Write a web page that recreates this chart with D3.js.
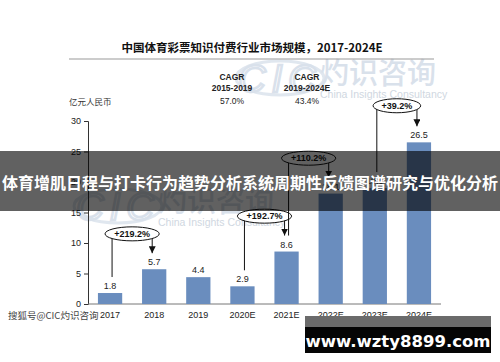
<!DOCTYPE html>
<html>
<head>
<meta charset="utf-8">
<script src="https://cdnjs.cloudflare.com/ajax/libs/d3/7.8.5/d3.min.js"></script>
<style>
  body { margin: 0; background: #fff; }
  svg { display: block; }
</style>
</head>
<body>
<svg id="chart" width="500" height="362"></svg>
<script>
// chart data
var years = ['2017', '2018', '2019', '2020E', '2021E', '2022E', '2023E', '2024E'];
var values = [1.8, 5.7, 4.4, 2.9, 8.6, 18.1, 19.0, 26.5];
var yTicks = [0, 5, 10, 15, 20, 25, 30];
// growth bubbles: from bar, to bar, text, bubble level (value units)
var growthFrom = ['2017', '2020E', '2021E', '2023E'];
var growthTo = ['2018', '2021E', '2022E', '2024E'];
var growthLabels = ['+219.2%', '+192.7%', '+110.2%', '+39.2%'];
var growthLevel = [11.5, 14.4, 23.9, 32.5];
var cagrPeriods = ['2015-2019', '2019-2024E'];
var cagrValues = ['57.0%', '43.4%'];

var svg = d3.select('#chart');
var barColor = '#6a8dbe';
var sans = '"Liberation Sans", Arial, sans-serif';
var cjk = '"Noto Sans CJK SC", sans-serif';

var x = d3.scaleBand().domain(years).range([88, 441]).paddingInner(0.45).paddingOuter(0.225);
var y = d3.scaleLinear().domain([0, 30]).range([304, 121]);
var cx = function(d) { return x(d) + x.bandwidth() / 2; };
var valueOf = function(d) { return values[years.indexOf(d)]; };

/** watermark (CIC logo), drawn twice **/
function drawLogo(ox, oy) {
    var g = svg.append('g').attr('transform', 'translate(' + ox + ',' + oy + ')');
    g.append('ellipse')
        .attr('cx', 40).attr('cy', 18).attr('rx', 44).attr('ry', 17)
        .attr('fill', 'none').attr('stroke', '#e0e7ef').attr('stroke-width', 3);
    g.append('text')
        .attr('x', 40).attr('y', 32)
        .attr('text-anchor', 'middle')
        .attr('font-family', sans).attr('font-style', 'italic')
        .attr('font-size', 38).attr('letter-spacing', 6)
        .attr('fill', 'none').attr('stroke', '#d9e1eb').attr('stroke-width', 2.5)
        .text('CIC');
    g.append('text')
        .attr('x', 80).attr('y', 24)
        .attr('font-family', cjk).attr('font-size', 29).attr('font-weight', 500)
        .attr('fill', '#d9e1eb')
        .text('灼识咨询');
    g.append('text')
        .attr('x', 80).attr('y', 38)
        .attr('font-family', sans).attr('font-size', 10.5)
        .attr('fill', '#cfd7e1')
        .text('China Insights Consultancy');
}
drawLogo(240, 60);
drawLogo(78, 188);

/** title **/
svg.append('text')
    .attr('x', 252).attr('y', 52)
    .attr('text-anchor', 'middle')
    .attr('font-family', cjk).attr('font-size', 11.5).attr('font-weight', 'bold')
    .attr('fill', '#111')
    .text('中国体育彩票知识付费行业市场规模，2017-2024E');
svg.append('line')
    .attr('x1', 69).attr('x2', 434).attr('y1', 59).attr('y2', 59)
    .attr('stroke', '#999').attr('stroke-width', 1);

/** CAGR headers **/
var cagrX = [232, 307];
cagrPeriods.forEach(function(p, i) {
    var t = svg.append('text')
        .attr('text-anchor', 'middle')
        .attr('font-family', sans).attr('font-size', 8.5)
        .attr('fill', '#222');
    t.append('tspan').attr('x', cagrX[i]).attr('y', 80).attr('font-weight', 'bold').text('CAGR');
    t.append('tspan').attr('x', cagrX[i]).attr('y', 91).attr('font-weight', 'bold').text(p);
    svg.append('text')
        .attr('x', cagrX[i]).attr('y', 104)
        .attr('text-anchor', 'middle')
        .attr('font-family', sans).attr('font-size', 8.5)
        .attr('fill', '#222')
        .text(cagrValues[i]);
});
svg.append('text')
    .attr('x', 69).attr('y', 105)
    .attr('font-family', cjk).attr('font-size', 8.5)
    .attr('fill', '#333')
    .text('亿元人民币');

/** source watermark (under the axis labels) **/
svg.append('text')
    .attr('x', 8).attr('y', 319)
    .attr('font-family', cjk).attr('font-size', 9.5)
    .attr('fill', '#444')
    .attr('stroke', '#fff').attr('stroke-width', 2).attr('paint-order', 'stroke')
    .text('搜狐号@CIC灼识咨询');

/** axes **/
var yAxis = d3.axisLeft(y).tickValues(yTicks).tickSize(4).tickPadding(3);
var gy = svg.append('g').attr('transform', 'translate(88,0)').call(yAxis);
gy.select('.domain').attr('stroke', '#333');
gy.selectAll('.tick line').attr('stroke', '#333');
gy.selectAll('text').attr('font-family', sans).attr('font-size', 9).attr('fill', '#222');

var xAxis = d3.axisBottom(x).tickSize(0).tickPadding(8);
var gx = svg.append('g').attr('transform', 'translate(0,304)').call(xAxis);
gx.select('.domain').attr('stroke', '#777').attr('d', 'M88,0H441');
gx.selectAll('text').attr('font-family', sans).attr('font-size', 9).attr('fill', '#222');

/** bars and value labels **/
svg.selectAll('.bar').data(years).enter()
    .append('rect')
    .attr('class', 'bar')
    .attr('x', function(d) { return x(d); })
    .attr('width', x.bandwidth())
    .attr('y', function(d) { return y(valueOf(d)); })
    .attr('height', function(d) { return y(0) - y(valueOf(d)); })
    .attr('fill', barColor);

svg.selectAll('.value').data(years).enter()
    .append('text')
    .attr('class', 'value')
    .attr('x', cx)
    .attr('y', function(d) { return y(valueOf(d)) - 4; })
    .attr('text-anchor', 'middle')
    .attr('font-family', sans).attr('font-size', 9)
    .attr('fill', '#222')
    .text(function(d) { return valueOf(d).toFixed(1); });

/** growth bubbles **/
svg.append('defs').append('marker')
    .attr('id', 'arrow')
    .attr('viewBox', '0 0 10 10')
    .attr('refX', 10).attr('refY', 5)
    .attr('markerWidth', 7).attr('markerHeight', 7)
    .attr('orient', 'auto')
    .append('path').attr('d', 'M0,0L10,5L0,10z').attr('fill', '#111');

growthLabels.forEach(function(label, i) {
    var a = growthFrom[i], b = growthTo[i];
    var ly = y(growthLevel[i]);
    var xa = cx(a) + 2, xb = cx(b) - 2;
    var mid = (cx(a) + cx(b)) / 2;

    svg.append('line')
        .attr('x1', xa).attr('x2', xa)
        .attr('y1', ly).attr('y2', y(valueOf(a)) - 16)
        .attr('stroke', '#111').attr('stroke-width', 1);
    svg.append('line')
        .attr('x1', xb).attr('x2', xb)
        .attr('y1', ly).attr('y2', y(valueOf(b)) - 16)
        .attr('stroke', '#111').attr('stroke-width', 1)
        .attr('marker-end', 'url(#arrow)');

    var rx = label.length * 3.3 + 4;
    svg.append('ellipse')
        .attr('cx', mid).attr('cy', ly)
        .attr('rx', rx).attr('ry', 7)
        .attr('fill', '#fff').attr('stroke', '#111').attr('stroke-width', 1);
    svg.append('text')
        .attr('x', mid).attr('y', ly + 3.2)
        .attr('text-anchor', 'middle')
        .attr('font-family', sans).attr('font-size', 9).attr('font-weight', 'bold')
        .attr('fill', '#111')
        .text(label);
});

/** overlay banner **/
svg.append('rect')
    .attr('x', 0).attr('y', 151).attr('width', 500).attr('height', 60)
    .attr('fill', 'rgba(0,0,0,0.62)');
svg.append('text')
    .attr('x', 250).attr('y', 189)
    .attr('text-anchor', 'middle')
    .attr('font-family', cjk).attr('font-size', 16).attr('font-weight', 'bold')
    .attr('fill', '#fff')
    .text('体育增肌日程与打卡行为趋势分析系统周期性反馈图谱研究与优化分析');

/** url box **/
svg.append('rect')
    .attr('x', 305).attr('y', 316).attr('width', 186).attr('height', 11)
    .attr('fill', '#6b6b6b');
svg.append('rect')
    .attr('x', 305).attr('y', 327).attr('width', 186).attr('height', 26)
    .attr('fill', '#050505');
svg.append('text')
    .attr('x', 398).attr('y', 347)
    .attr('text-anchor', 'middle')
    .attr('font-family', '"DejaVu Sans", sans-serif').attr('font-size', 16.5).attr('font-weight', 'bold')
    .attr('fill', '#fff')
    .text('www.wzty8899.com');
</script>
</body>
</html>
